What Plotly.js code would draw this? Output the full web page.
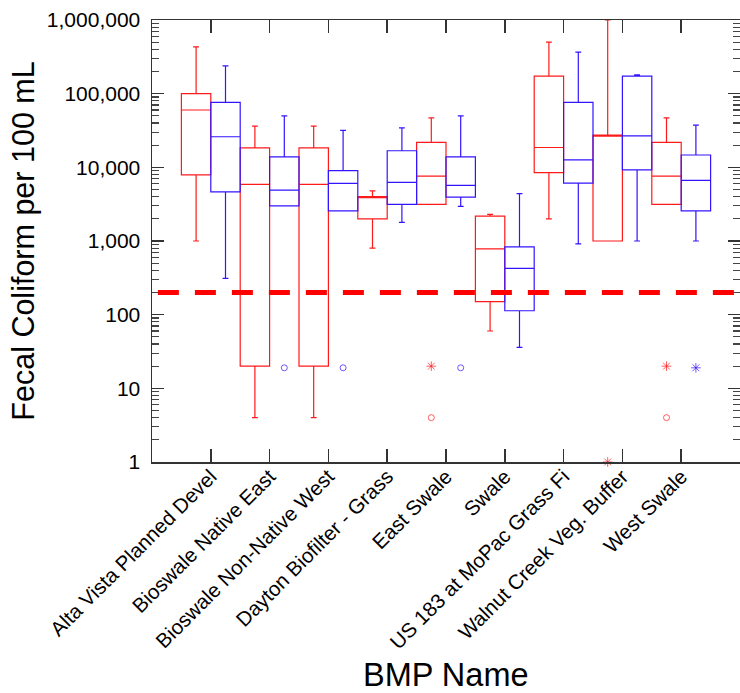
<!DOCTYPE html>
<html><head><meta charset="utf-8">
<script src="https://cdn.plot.ly/plotly-3.0.1.min.js"></script>
<style>html,body{margin:0;padding:0;background:#fff}#chart{width:740px;height:693px}</style>
</head><body><div id="chart"></div>
<script>
const categories = ['Alta Vista Planned Devel','Bioswale Native East','Bioswale Non-Native West','Dayton Biofilter - Grass','East Swale','Swale','US 183 at MoPac Grass Fi','Walnut Creek Veg. Buffer','West Swale'];

// red series (left box of each pair)
const redUpper  = [431000, 36200, 36200, 4800, 47000, 2300, 500000, 1000000, 47000];
const redQ3     = [100000, 18400, 18400, 4000, 21800, 2180, 173000, 27400, 21800];
const redMedian = [60000, 5860, 5860, 4000, 7600, 780, 18600, 27400, 7600];
const redQ1     = [7900, 20, 20, 2000, 3150, 150, 8500, 1000, 3150];
const redLower  = [1000, 4, 4, 800, 3150, 60, 2000, 1000, 3150];

// blue series (right box of each pair)
const blueUpper  = [238000, 50000, 31700, 34400, 50000, 4400, 366000, 180000, 37400];
const blueQ3     = [76000, 13900, 9000, 16800, 13900, 834, 76000, 173000, 14700];
const blueMedian = [26000, 4900, 6050, 6240, 5680, 425, 12600, 26800, 6640];
const blueQ1     = [4650, 3000, 2570, 3140, 3940, 113, 6100, 9250, 2570];
const blueLower  = [311, 3000, 2570, 1790, 2950, 36, 916, 1000, 1000];

// outliers
const redOutCat   = ['East Swale','East Swale','Walnut Creek Veg. Buffer','West Swale','West Swale'];
const redOutVal   = [20, 4, 1, 20, 4];
const redOutSym   = ['asterisk-open','circle-open','asterisk-open','asterisk-open','circle-open'];
const blueOutCat  = ['Bioswale Native East','Bioswale Non-Native West','East Swale','West Swale'];
const blueOutVal  = [19, 19, 19, 19];
const blueOutSym  = ['circle-open','circle-open','circle-open','asterisk-open'];

const standard = 200;

const RED = '#ff1a1a', BLUE = '#3314ff';
const idx = c => categories.indexOf(c);
const catPos = categories.map((c,i)=>i);

function boxTrace(off, color, up, q3, med, q1, lo){
  return {type:'box', x: catPos.map(i=>i+off), q1:q1, median:med, q3:q3, lowerfence:lo, upperfence:up,
    width:0.5, whiskerwidth:0.2, boxpoints:false, fillcolor:'rgba(0,0,0,0)',
    line:{color:color, width:1.2}, hoverinfo:'skip', showlegend:false};
}
function outTrace(off, color, cats, vals, syms){
  return {type:'scatter', mode:'markers', x: cats.map(c=>idx(c)+off), y: vals, cliponaxis:false,
    marker:{symbol:syms, size:syms.map(s=>s.startsWith('asterisk')?8:6), color:color, line:{color:color, width:1}},
    showlegend:false, hoverinfo:'skip'};
}

const data = [
  boxTrace(-0.25, RED, redUpper, redQ3, redMedian, redQ1, redLower),
  boxTrace(0.25, BLUE, blueUpper, blueQ3, blueMedian, blueQ1, blueLower),
  outTrace(-0.25, RED, redOutCat, redOutVal, redOutSym),
  outTrace(0.25, BLUE, blueOutCat, blueOutVal, blueOutSym)
];

const font = 'Liberation Sans, Arial, sans-serif';
const layout = {
  width:740, height:693,
  margin:{l:152, r:0, t:20, b:231},
  paper_bgcolor:'#fff', plot_bgcolor:'#fff',
  font:{family:font, color:'#000'},
  boxmode:'overlay',
  xaxis:{type:'linear', range:[-1,9], tickvals:catPos, ticktext:categories, tickangle:-45,
    tickfont:{size:20.5, family:font}, ticks:'inside', ticklen:13, tickcolor:'#333', tickwidth:1.5,
    ticklabelstandoff:-7,
    showline:true, linecolor:'#333', linewidth:1.5, mirror:'ticks', showgrid:false, zeroline:false},
  yaxis:{type:'log', range:[0,6], dtick:1, tickformat:',d', tickfont:{size:21, family:font},
    ticks:'inside', ticklen:12, tickcolor:'#333', tickwidth:1.5, ticklabelstandoff:6,
    minor:{ticks:'inside', ticklen:7, tickcolor:'#444', tickwidth:1.2, dtick:'D1', showgrid:false},
    showline:true, linecolor:'#333', linewidth:1.5, mirror:'ticks', showgrid:false, zeroline:false,
    title:{text:'Fecal Coliform per 100 mL', font:{size:30.5, family:font}, standoff:3}},
  annotations:[{text:'BMP Name', xref:'paper', yref:'paper', x:0.5, y:-0.4819, xanchor:'center', yanchor:'middle',
    showarrow:false, font:{size:32.5, family:font, color:'#000'}}],
  shapes:[{type:'line', xref:'x', yref:'y', x0:-0.9, x1:9, y0:standard, y1:standard,
    line:{color:'#ff0000', width:5, dash:'21px,16px'}, layer:'above'}]
};

Plotly.newPlot('chart', data, layout, {staticPlot:true});
</script></body></html>
